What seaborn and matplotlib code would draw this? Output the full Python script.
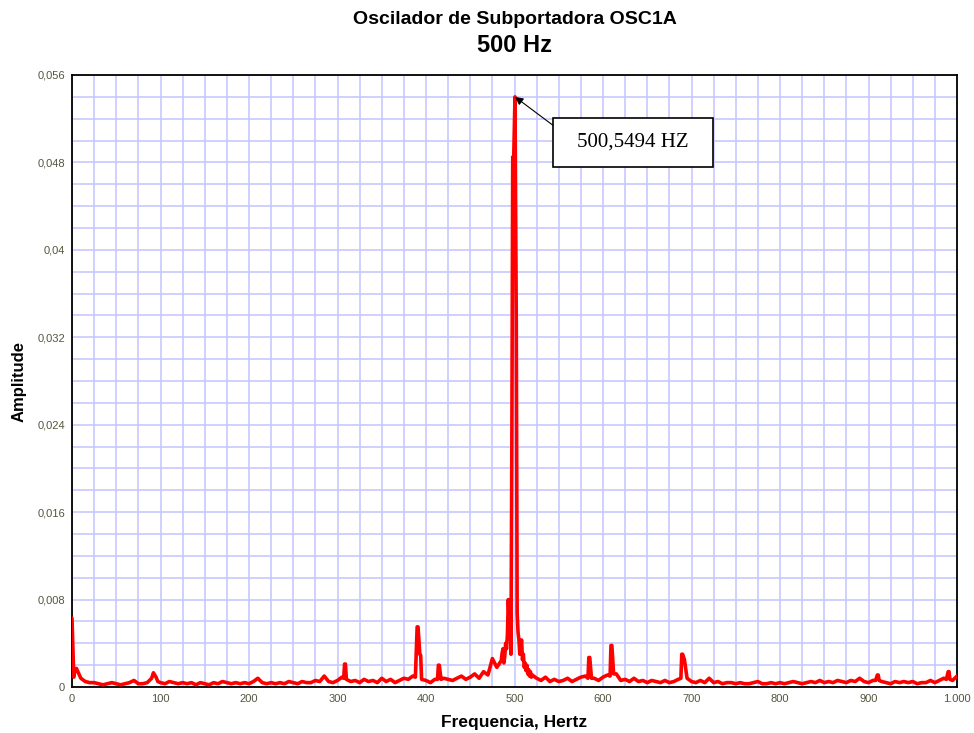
import numpy as np
import pandas as pd
import matplotlib
matplotlib.use("Agg")
import matplotlib.pyplot as plt
from matplotlib.patches import Rectangle
import seaborn as sns

# ---------------- data ----------------
title_line1 = "Oscilador de Subportadora OSC1A"
title_line2 = "500 Hz"
x_label = "Frequencia, Hertz"
y_label = "Amplitude"
peak_label = "500,5494 HZ"
peak_freq = 500.55
peak_amp = 0.0540

# FFT bins 0..485 Hz (5 Hz spacing)
base1_freq = np.arange(0, 486, 5)
base1_amp = [
    0.0063, 0.0017, 0.0008, 0.0005, 0.0004, 0.0004, 0.0003, 0.0002, 0.0003, 0.0004,
    0.0003, 0.0002, 0.0003, 0.0004, 0.0006, 0.0003, 0.0003, 0.0004, 0.0008, 0.0009,
    0.0004, 0.0003, 0.0005, 0.0004, 0.0003, 0.0004, 0.0003, 0.0004, 0.0002, 0.0004,
    0.0003, 0.0002, 0.0004, 0.0003, 0.0005, 0.0004, 0.0003, 0.0004, 0.0003, 0.0004,
    0.0003, 0.0005, 0.0008, 0.0004, 0.0003, 0.0004, 0.0003, 0.0004, 0.0003, 0.0005,
    0.0004, 0.0003, 0.0005, 0.0004, 0.0004, 0.0006, 0.0005, 0.0010, 0.0005, 0.0004,
    0.0006, 0.0009, 0.0007, 0.0005, 0.0006, 0.0004, 0.0007, 0.0005, 0.0006, 0.0004,
    0.0008, 0.0005, 0.0007, 0.0004, 0.0006, 0.0008, 0.0007, 0.0010, 0.0055, 0.0007,
    0.0006, 0.0004, 0.0007, 0.0020, 0.0008, 0.0007, 0.0006, 0.0008, 0.0010, 0.0007,
    0.0009, 0.0012, 0.0008, 0.0014, 0.0011, 0.0026, 0.0018, 0.0024,
]

# fine bins around the carrier
fine_freq = [486, 487, 488, 489, 490, 491, 492, 493, 494, 495, 496, 497, 498, 499,
             500.55, 502, 503, 504, 505, 506, 507, 508, 509, 510, 511, 512, 513,
             514, 515, 516, 517, 518, 519, 520]
fine_amp = [0.0031, 0.0035, 0.0022, 0.0028, 0.0040, 0.0035, 0.0048, 0.0080, 0.0060,
            0.0075, 0.0030, 0.0220, 0.0485, 0.0480, 0.0540, 0.0335, 0.0068, 0.0050,
            0.0043, 0.0030, 0.0038, 0.0043, 0.0025, 0.0030, 0.0018, 0.0022, 0.0015,
            0.0020, 0.0012, 0.0016, 0.0010, 0.0014, 0.0009, 0.0011]

# FFT bins 525..1000 Hz (5 Hz spacing)
base2_freq = np.arange(525, 1001, 5)
base2_amp = [
    0.0008, 0.0006, 0.0009, 0.0005, 0.0007, 0.0005, 0.0006, 0.0008, 0.0005, 0.0007,
    0.0009, 0.0010, 0.0027, 0.0008, 0.0006, 0.0009, 0.0011, 0.0038, 0.0012, 0.0006,
    0.0007, 0.0005, 0.0008, 0.0005, 0.0006, 0.0004, 0.0006, 0.0005, 0.0004, 0.0006,
    0.0004, 0.0005, 0.0007, 0.0030, 0.0008, 0.0005, 0.0004, 0.0006, 0.0004, 0.0008,
    0.0004, 0.0005, 0.0003, 0.0004, 0.0004, 0.0003, 0.0004, 0.0003, 0.0003, 0.0004,
    0.0005, 0.0003, 0.0003, 0.0004, 0.0003, 0.0004, 0.0003, 0.0004, 0.0005, 0.0004,
    0.0003, 0.0004, 0.0005, 0.0004, 0.0006, 0.0004, 0.0005, 0.0004, 0.0006, 0.0005,
    0.0004, 0.0006, 0.0005, 0.0008, 0.0005, 0.0004, 0.0006, 0.0011, 0.0005, 0.0004,
    0.0003, 0.0005, 0.0004, 0.0005, 0.0004, 0.0005, 0.0003, 0.0004, 0.0004, 0.0006,
    0.0004, 0.0006, 0.0008, 0.0014, 0.0006, 0.0010,
]

# extra bins that shape the narrow side peaks
extra_freq = [2, 3, 92, 97, 307, 308, 309, 388, 391, 393, 394, 413, 414, 417,
              583, 584, 587, 608, 609, 612, 688, 689, 692, 908, 911, 912, 988, 991, 992]
extra_amp = [0.0009, 0.0014, 0.0013, 0.0005, 0.0008, 0.0021, 0.0021, 0.0009, 0.0055,
             0.0030, 0.0029, 0.0007, 0.0020, 0.0007, 0.0008, 0.0027, 0.0008, 0.0010,
             0.0038, 0.0012, 0.0008, 0.0030, 0.0025, 0.0006, 0.0011, 0.0006, 0.0007,
             0.0014, 0.0007]

x_ticks = [0, 100, 200, 300, 400, 500, 600, 700, 800, 900, 1000]
x_tick_labels = ["0", "100", "200", "300", "400", "500", "600", "700", "800", "900", "1.000"]
y_ticks = [0, 0.008, 0.016, 0.024, 0.032, 0.04, 0.048, 0.056]
y_tick_labels = ["0", "0,008", "0,016", "0,024", "0,032", "0,04", "0,048", "0,056"]

# ---------------- build table ----------------
df = pd.DataFrame({
    "freq": np.concatenate([base1_freq, fine_freq, base2_freq, extra_freq]).astype(float),
    "amp": np.concatenate([base1_amp, fine_amp, base2_amp, extra_amp]),
}).sort_values("freq")

# ---------------- plot ----------------
sns.set_style("white")
plt.rcParams["font.family"] = ["Liberation Sans", "DejaVu Sans"]

fig = plt.figure(figsize=(9.74, 7.33), dpi=100)
ax = fig.add_axes([72 / 974, 1 - 687 / 733, (957 - 72) / 974, (687 - 75) / 733])

sns.lineplot(data=df, x="freq", y="amp", ax=ax, color="#ff0000", linewidth=2.6,
             estimator=None, zorder=3)

ax.set_xlim(0, 1000)
ax.set_ylim(0, 0.056)

ax.set_xticks(x_ticks)
ax.set_xticklabels(x_tick_labels)
ax.set_yticks(y_ticks)
ax.set_yticklabels(y_tick_labels)
ax.set_xticks(np.arange(0, 1001, 25), minor=True)
ax.set_yticks(np.arange(0, 0.0561, 0.002), minor=True)
ax.tick_params(which="both", length=0, labelsize=8, labelcolor="#55553f", pad=5)
ax.grid(which="both", color="#c8c8ff", linewidth=1.2, zorder=0)
ax.set_axisbelow(True)

for s in ax.spines.values():
    s.set_color("black")
    s.set_linewidth(1.3)

ax.set_xlabel(x_label, fontsize=12.5, fontweight="bold", labelpad=8, color="black")
ax.set_ylabel(y_label, fontsize=12, fontweight="bold", labelpad=8, color="black")

cx = (72 + 957) / 2 / 974
fig.text(cx, 1 - 20 / 733, title_line1, ha="center", va="center", fontsize=14,
         fontweight="bold", color="black")
fig.text(cx, 1 - 45 / 733, title_line2, ha="center", va="center", fontsize=17,
         fontweight="bold", color="black")

# annotation box (axes fraction), text and arrow
box_x0, box_y0, box_w, box_h = 0.5435, 0.8497, 0.1808, 0.0801
ax.add_patch(Rectangle((box_x0, box_y0), box_w, box_h, transform=ax.transAxes,
                       fc="white", ec="black", lw=1.2, zorder=5))
ax.text(box_x0 + box_w / 2, box_y0 + box_h / 2, peak_label, transform=ax.transAxes,
        ha="center", va="center", fontsize=15, color="black",
        family=["Liberation Serif", "DejaVu Serif"], zorder=6)
ax.annotate("", xy=(peak_freq, peak_amp), xycoords="data",
            xytext=(box_x0, box_y0 + box_h * 0.85), textcoords="axes fraction",
            arrowprops=dict(arrowstyle="-|>", color="black", lw=0.8,
                            shrinkA=0, shrinkB=0, mutation_scale=12),
            zorder=6)

fig.savefig("out.png", dpi=100)
